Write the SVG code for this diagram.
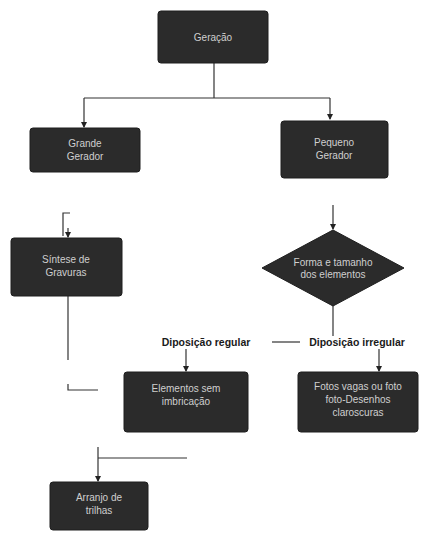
<svg xmlns="http://www.w3.org/2000/svg" width="448" height="533" viewBox="0 0 448 533">
<defs>
<style>
.box{fill:#2b2b2b;stroke:#1e1e1e;stroke-width:1}
.t{font-family:"Liberation Sans",Arial,sans-serif;font-size:10px;fill:#cfcfcf;text-anchor:middle}
.lbl{font-family:"Liberation Sans",Arial,sans-serif;font-size:10.5px;font-weight:bold;fill:#1a1a1a;text-anchor:middle}
.ln{fill:none;stroke:#333;stroke-width:1.2}
</style>
<marker id="ah" markerWidth="6" markerHeight="6" refX="5" refY="3" orient="auto" markerUnits="userSpaceOnUse">
<path d="M0,0 L6,3 L0,6 Z" fill="#222"/>
</marker>
</defs>
<rect width="448" height="533" fill="#ffffff"/>
<g id="connectors">
<path class="ln" d="M214,62 V98"/>
<path class="ln" d="M84,98 H330"/>
<path class="ln" d="M84,98 V127" marker-end="url(#ah)"/>
<path class="ln" d="M330,98 V119" marker-end="url(#ah)"/>
<path class="ln" d="M70,213 H63 V236" />
<path class="ln" d="M68,228 V237" marker-end="url(#ah)"/>
<path class="ln" d="M333,205 V229" marker-end="url(#ah)"/>
<path class="ln" d="M68,296 V360"/>
<path class="ln" d="M68,384 V390 H98"/>
<path class="ln" d="M333,305 V336"/>
<path class="ln" d="M272,342 H300"/>
<path class="ln" d="M186,349 V371" marker-end="url(#ah)"/>
<path class="ln" d="M379,349 V371" marker-end="url(#ah)"/>
<path class="ln" d="M98,447 V481" marker-end="url(#ah)"/>
<path class="ln" d="M98,458 H187"/>
</g>
<g id="n-top">
<rect class="box" x="158" y="11" width="110" height="52" rx="3"/>
<text class="t" x="213" y="41">Geração</text>
</g>
<g id="n-grande">
<rect class="box" x="30" y="128" width="110" height="44" rx="3"/>
<text class="t" x="85" y="147">Grande</text>
<text class="t" x="85" y="160">Gerador</text>
</g>
<g id="n-pequeno">
<rect class="box" x="281" y="121" width="107" height="57" rx="3"/>
<text class="t" x="334" y="146">Pequeno</text>
<text class="t" x="334" y="159">Gerador</text>
</g>
<g id="n-sintese">
<rect class="box" x="11" y="238" width="111" height="58" rx="3"/>
<text class="t" x="66" y="263">Síntese de</text>
<text class="t" x="66" y="276">Gravuras</text>
</g>
<g id="n-diamond">
<polygon class="box" points="333,230 404,268 333,306 262,268"/>
<text class="t" x="333" y="266">Forma e tamanho</text>
<text class="t" x="333" y="278">dos elementos</text>
</g>
<g id="l-regular">
<text class="lbl" x="206" y="346">Diposição regular</text>
</g>
<g id="l-irregular">
<text class="lbl" x="357" y="346">Diposição irregular</text>
</g>
<g id="n-elementos">
<rect class="box" x="124" y="372" width="124" height="60" rx="3"/>
<text class="t" x="186" y="392">Elementos sem</text>
<text class="t" x="186" y="405">imbricação</text>
</g>
<g id="n-fotos">
<rect class="box" x="298" y="372" width="120" height="60" rx="3"/>
<text class="t" x="358" y="390">Fotos vagas ou foto</text>
<text class="t" x="358" y="403">foto-Desenhos</text>
<text class="t" x="358" y="416">claroscuras</text>
</g>
<g id="n-arranjo">
<rect class="box" x="50" y="482" width="98" height="48" rx="3"/>
<text class="t" x="99" y="501">Arranjo de</text>
<text class="t" x="99" y="514">trilhas</text>
</g>
</svg>
